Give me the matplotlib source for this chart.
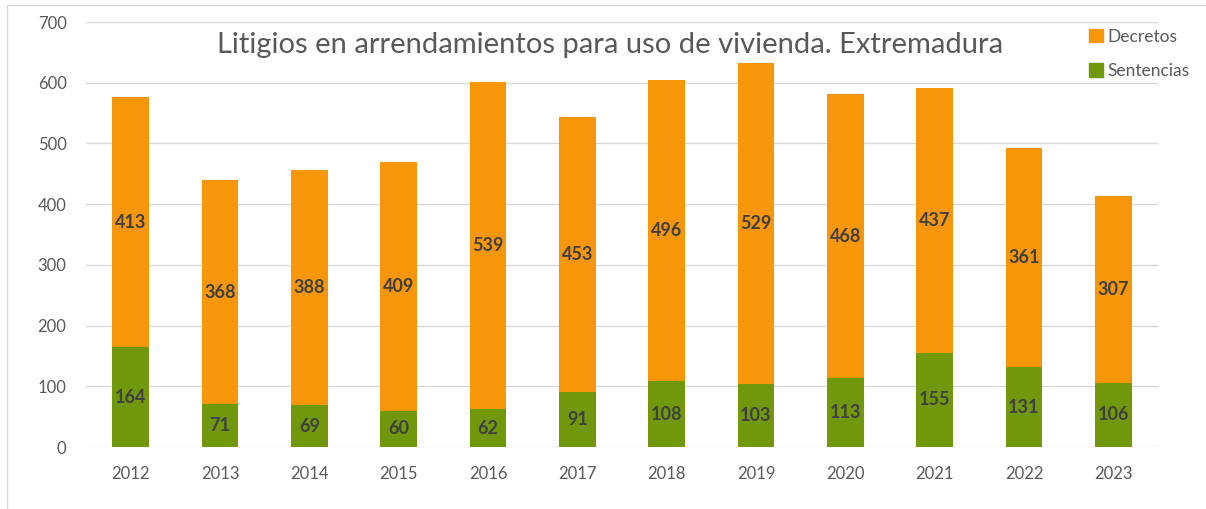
import matplotlib.pyplot as plt
from matplotlib.patches import Patch, Rectangle

# data
years = ['2012', '2013', '2014', '2015', '2016', '2017',
         '2018', '2019', '2020', '2021', '2022', '2023']
sentencias = [164, 71, 69, 60, 62, 91, 108, 103, 113, 155, 131, 106]
decretos = [413, 368, 388, 409, 539, 453, 496, 529, 468, 437, 361, 307]

plt.rcParams['font.family'] = ['Lato', 'DejaVu Sans']

orange = '#F79608'
green = '#70980A'
text_color = '#595959'
label_color = '#404040'

fig = plt.figure(figsize=(12.06, 5.09), dpi=100)
ax = fig.add_axes([86 / 1206, 1 - 447 / 509, (1158 - 86) / 1206, (447 - 22) / 509])

# light frame round the chart area
fig.patches.append(Rectangle((7 / 1206, -0.1), 1.2, 1 - 5 / 509 + 0.1,
                             transform=fig.transFigure, fill=False,
                             edgecolor='#d9d9d9', linewidth=1))

x = range(len(years))
width = 0.41
bars_s = ax.bar(x, sentencias, width, color=green, zorder=3)
bars_d = ax.bar(x, decretos, width, bottom=sentencias, color=orange, zorder=3)

ax.bar_label(bars_s, label_type='center', fontsize=13, fontweight='bold', color=label_color)
ax.bar_label(bars_d, label_type='center', fontsize=13, fontweight='bold', color=label_color)

ax.set_xlim(-0.5, len(years) - 0.5)
ax.set_ylim(0, 700)
ax.set_yticks(range(0, 701, 100))
ax.set_xticks(list(x))
ax.set_xticklabels(years)
ax.tick_params(axis='both', length=0, labelsize=12, labelcolor=text_color)
ax.tick_params(axis='y', pad=14)
ax.tick_params(axis='x', pad=14)
ax.yaxis.grid(True, color='#d9d9d9', linewidth=1, zorder=0)
for s in ax.spines.values():
    s.set_visible(False)

fig.text(610 / 1206, 1 - 45 / 509, 'Litigios en arrendamientos para uso de vivienda. Extremadura',
         ha='center', va='center', fontsize=21, color=text_color)

handles = [Patch(color=orange), Patch(color=green)]
fig.legend(handles, ['Decretos', 'Sentencias'], loc='upper left',
           bbox_to_anchor=(1080 / 1206, 1 - 20 / 509), frameon=False,
           fontsize=12.5, labelcolor=text_color, handlelength=0.8, handleheight=0.8,
           handletextpad=0.3, labelspacing=1.05, borderpad=0)

fig.savefig('out.png', dpi=100)
